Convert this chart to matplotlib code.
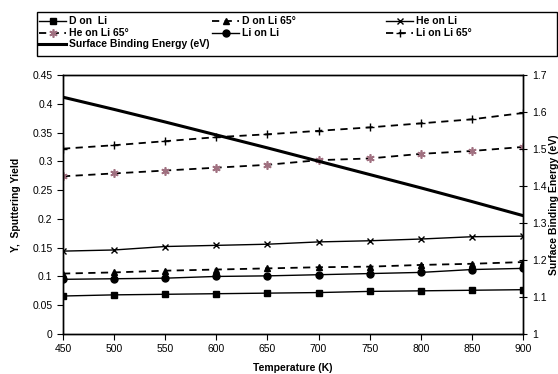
import matplotlib
matplotlib.use("Agg")
import matplotlib.pyplot as plt
from matplotlib.lines import Line2D
from matplotlib.patches import Rectangle

plt.rcParams['font.family'] = ['Liberation Sans', 'DejaVu Sans']

temperature = [450, 500, 550, 600, 650, 700, 750, 800, 850, 900]
d_on_li = [0.066, 0.068, 0.069, 0.070, 0.071, 0.072, 0.074, 0.075, 0.076, 0.077]
d_on_li_65 = [0.105, 0.107, 0.110, 0.112, 0.114, 0.116, 0.117, 0.120, 0.122, 0.125]
he_on_li = [0.144, 0.146, 0.152, 0.154, 0.156, 0.160, 0.162, 0.165, 0.169, 0.170]
he_on_li_65 = [0.274, 0.279, 0.284, 0.289, 0.294, 0.302, 0.305, 0.313, 0.318, 0.325]
li_on_li = [0.095, 0.096, 0.097, 0.100, 0.101, 0.103, 0.105, 0.107, 0.112, 0.114]
li_on_li_65 = [0.322, 0.328, 0.335, 0.342, 0.347, 0.353, 0.359, 0.366, 0.373, 0.384]
binding_energy = [1.64, 1.607, 1.573, 1.538, 1.503, 1.467, 1.431, 1.395, 1.358, 1.32]

W, H = 558, 374
fig = plt.figure(figsize=(W / 100, H / 100), dpi=100)
ax = fig.add_axes([63 / W, 1 - 334 / H, (523 - 63) / W, (334 - 75) / H])
ax2 = ax.twinx()

dash = (0, (4, 3))
pink = '#a07080'
styles = {
    'D on  Li': dict(color='black', lw=1.0, ls='-', marker='s', ms=5),
    'D on Li 65°': dict(color='black', lw=1.3, ls=dash, marker='^', ms=5),
    'He on Li': dict(color='black', lw=1.0, ls='-', marker='x', ms=5, mew=1.0),
    'He on Li 65°': dict(color='black', lw=1.3, ls=dash, marker=(6, 2, 0), ms=6, mec=pink, mfc=pink, mew=1.2),
    'Li on Li': dict(color='black', lw=1.0, ls='-', marker='o', ms=5),
    'Li on Li 65°': dict(color='black', lw=1.3, ls=dash, marker='+', ms=6, mew=1.0),
    'Surface Binding Energy (eV)': dict(color='black', lw=2.2, ls='-'),
}

ax.plot(temperature, d_on_li, **styles['D on  Li'])
ax.plot(temperature, d_on_li_65, **styles['D on Li 65°'])
ax.plot(temperature, he_on_li, **styles['He on Li'])
ax.plot(temperature, he_on_li_65, **styles['He on Li 65°'])
ax.plot(temperature, li_on_li, **styles['Li on Li'])
ax.plot(temperature, li_on_li_65, **styles['Li on Li 65°'])
ax2.plot(temperature, binding_energy, **styles['Surface Binding Energy (eV)'])

ax.set_xlim(450, 900)
ax.set_ylim(0, 0.45)
ax2.set_ylim(1, 1.7)
ax.set_xticks(temperature)
ax.set_yticks([0, 0.05, 0.1, 0.15, 0.2, 0.25, 0.3, 0.35, 0.4, 0.45])
ax.set_yticklabels(['0', '0.05', '0.1', '0.15', '0.2', '0.25', '0.3', '0.35', '0.4', '0.45'])
ax2.set_yticks([1, 1.1, 1.2, 1.3, 1.4, 1.5, 1.6, 1.7])
ax2.set_yticklabels(['1', '1.1', '1.2', '1.3', '1.4', '1.5', '1.6', '1.7'])

for a in (ax, ax2):
    for s in a.spines.values():
        s.set_linewidth(1.0)
        s.set_color('black')
ax.tick_params(axis='both', direction='out', length=4, width=0.8, labelsize=7.5, colors='black')
ax2.tick_params(axis='y', direction='inout', length=6, width=0.8, labelsize=7.5, colors='black')

ax.set_xlabel('Temperature (K)', fontsize=7.5, fontweight='bold', labelpad=6)
ax.set_ylabel('Y,  Sputtering Yield', fontsize=7.5, fontweight='bold', labelpad=8)
ax2.set_ylabel('Surface Binding Energy (eV)', fontsize=7.5, fontweight='bold', labelpad=2)

# Legend box drawn in figure pixel coordinates (Excel-like fixed columns)
def fx(x):
    return x / W

def fy(y):
    return 1 - y / H

fig.add_artist(Rectangle((fx(37), fy(56)), fx(557) - fx(37), fy(12) - fy(56),
                         transform=fig.transFigure, fill=False, edgecolor='black', lw=1.0))
legend_layout = [
    ('D on  Li', 39, 21), ('D on Li 65°', 212, 21), ('He on Li', 386, 21),
    ('He on Li 65°', 39, 32.5), ('Li on Li', 212, 32.5), ('Li on Li 65°', 386, 32.5),
    ('Surface Binding Energy (eV)', 39, 44),
]
for label, x0, y0 in legend_layout:
    st = dict(styles[label])
    ms = st.pop('ms', None)
    x1 = x0 + 27
    ln = Line2D([fx(x0), fx((x0 + x1) / 2), fx(x1)], [fy(y0)] * 3, transform=fig.transFigure,
                markevery=[1], **st)
    if ms is not None:
        ln.set_markersize(ms)
    fig.add_artist(ln)
    fig.text(fx(x1 + 3), fy(y0), label, fontsize=7.5, fontweight='bold', va='center', ha='left')

fig.savefig('out.png', dpi=100)
